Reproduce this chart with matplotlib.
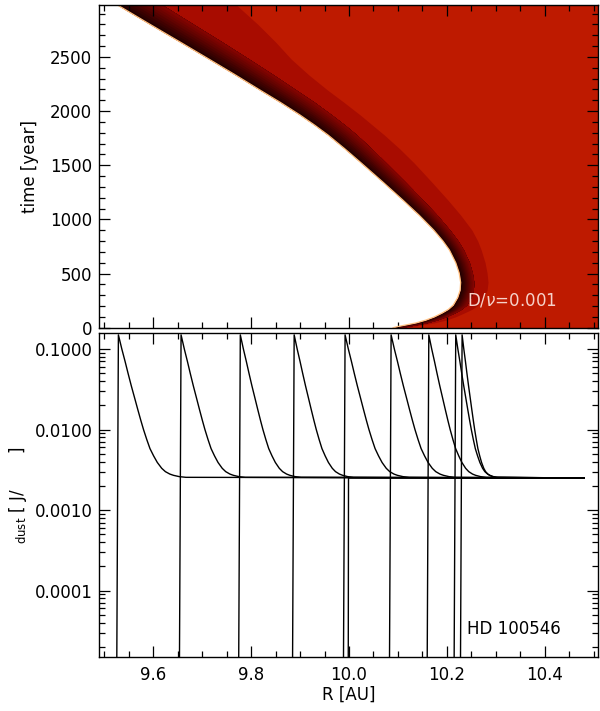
import matplotlib

matplotlib.use("Agg")
import matplotlib.pyplot as plt
import numpy as np
from matplotlib.ticker import FixedLocator, LogLocator, MultipleLocator, NullFormatter

# ---------------------------------------------------------------- #
# Top panel: inner dust edge R_in(t) and widths of the shading bands
# ---------------------------------------------------------------- #
t_edge = [2980, 2800, 2638, 2480, 2334, 2195, 2080, 1964, 1870, 1780, 1650,
          1521, 1350, 1179, 1040, 902, 800, 718, 600, 505, 420, 348, 280,
          210, 170, 136, 100, 71, 45, 25, 10, 0]
r_inner = [9.527, 9.594, 9.655, 9.714, 9.768, 9.818, 9.860, 9.900, 9.930,
           9.957, 9.992, 10.025, 10.068, 10.110, 10.143, 10.173, 10.192,
           10.205, 10.218, 10.225, 10.228, 10.227, 10.222, 10.213, 10.203,
           10.190, 10.174, 10.157, 10.137, 10.115, 10.098, 10.090]
dark_width = [0.092, 0.089, 0.086, 0.082, 0.078, 0.074, 0.070, 0.065, 0.062,
              0.059, 0.055, 0.051, 0.046, 0.041, 0.037, 0.033, 0.031, 0.029,
              0.028, 0.027, 0.027, 0.027, 0.027, 0.027, 0.026, 0.025, 0.023,
              0.022, 0.021, 0.020, 0.018, 0.016]
mid_width = [0.243, 0.220, 0.195, 0.168, 0.150, 0.138, 0.130, 0.123, 0.118,
             0.115, 0.112, 0.108, 0.100, 0.092, 0.085, 0.078, 0.071, 0.065,
             0.060, 0.057, 0.056, 0.055, 0.053, 0.051, 0.048, 0.045, 0.043,
             0.041, 0.037, 0.033, 0.031, 0.029]

# ---------------------------------------------------------------- #
# Bottom panel: surface density snapshots
# profile shape (sigma vs distance behind the peak) read off the
# outermost snapshot; the others are the same shape, narrower
# ---------------------------------------------------------------- #
shape_sigma = [0.150, 0.100, 0.070, 0.050, 0.035, 0.025, 0.018, 0.013, 0.010,
               0.0075, 0.0058, 0.0047, 0.0039, 0.0033, 0.0030, 0.0028,
               0.0027, 0.0026, 0.00255]
shape_dr = [0.0, 0.007, 0.0137, 0.0197, 0.0263, 0.0329, 0.0393, 0.0458,
            0.0513, 0.058, 0.0645, 0.072, 0.0795, 0.0885, 0.096, 0.105,
            0.1125, 0.1245, 0.138]
peak_r = [9.529, 9.657, 9.778, 9.888, 9.992, 10.086, 10.163, 10.218, 10.231]
width_scale = [1.0, 0.95, 0.9, 0.88, 0.95, 0.95, 0.85, 0.62, 0.5]
sigma_floor = 0.0025
r_floor_end = 10.48
r_initial = 9.998  # flat t=0 profile

plt.rcParams["font.family"] = "DejaVu Sans"
plt.rcParams["font.size"] = 12

fig = plt.figure(figsize=(6.0, 7.11), dpi=100)
ax_t = fig.add_axes([0.1655, 0.539, 0.8307, 0.454])
ax_s = fig.add_axes([0.1655, 0.0764, 0.8307, 0.4552])

xlim = (9.49, 10.508)

# --- top panel ---
main_red = (190 / 255, 26 / 255, 0)
mid_red = (168 / 255, 12 / 255, 0)
ti = np.array(t_edge, float)
ri = np.array(r_inner)
rd = ri + np.array(dark_width)
rm = ri + np.array(mid_width)
ax_t.fill_betweenx(ti, ri, xlim[1] + 0.1, color=main_red, lw=0)
ax_t.fill_betweenx(ti, ri, rm, color=mid_red, lw=0)
c0 = np.array([28, 0, 0]) / 255
c1 = np.array([135, 4, 0]) / 255
n_lay = 10
for k in range(n_lay):
    f0 = k / n_lay
    col = c0 + (c1 - c0) * (k + 0.5) / n_lay
    ax_t.fill_betweenx(ti, ri + (rd - ri) * f0, rd, color=col, lw=0)
ax_t.plot(ri, ti, color="#ffc080", lw=0.9)
ax_t.text(10.241, 256, r"D/$\nu$=0.001", color="#f6d2ca", fontsize=12,
          va="center", ha="left")
ax_t.set_xlim(*xlim)
ax_t.set_ylim(0, 2980)
ax_t.set_ylabel("time [year]", labelpad=8)
ax_t.yaxis.set_major_locator(MultipleLocator(500))
ax_t.yaxis.set_minor_locator(MultipleLocator(100))
ax_t.xaxis.set_major_locator(MultipleLocator(0.2))
ax_t.xaxis.set_minor_locator(MultipleLocator(0.05))
ax_t.set_xticklabels([])

# --- bottom panel ---
dr = np.array(shape_dr)
for r0, sc in zip(peak_r, width_scale):
    xs = np.concatenate([[r0 - 0.005], r0 + dr * sc, [r_floor_end]])
    ys = np.concatenate([[1e-7], shape_sigma, [sigma_floor]])
    ax_s.plot(xs, ys, color="black", lw=1.0)
ax_s.plot([r_initial, r_initial + 0.001, r_floor_end], [1e-7, sigma_floor, sigma_floor],
          color="black", lw=1.0)
ax_s.text(10.241, 3.3e-5, "HD 100546", fontsize=12, va="center", ha="left")
ax_s.set_yscale("log")
ax_s.set_xlim(*xlim)
ax_s.set_ylim(1.51e-5, 0.158)
ax_s.xaxis.set_major_locator(MultipleLocator(0.2))
ax_s.xaxis.set_minor_locator(MultipleLocator(0.05))
ax_s.yaxis.set_major_locator(FixedLocator([1e-4, 1e-3, 1e-2, 1e-1]))
ax_s.yaxis.set_minor_locator(LogLocator(base=10, subs=np.arange(2, 10)))
ax_s.yaxis.set_minor_formatter(NullFormatter())
ax_s.set_yticks([1e-4, 1e-3, 1e-2, 1e-1], ["0.0001", "0.0010", "0.0100", "0.1000"])
ax_s.set_xticks([9.6, 9.8, 10.0, 10.2, 10.4], ["9.6", "9.8", "10.0", "10.2", "10.4"])
ax_s.set_xlabel("R [AU]", labelpad=1)
ax_s.set_ylabel(r"${}_{\mathrm{dust}}$ [ J/       ]", labelpad=4, fontsize=12)

for ax in (ax_t, ax_s):
    ax.tick_params(which="both", direction="in", top=True, right=True)
    ax.tick_params(which="major", length=8, width=0.9, pad=5)
    ax.tick_params(which="minor", length=4, width=0.9)
    for sp in ax.spines.values():
        sp.set_linewidth(1.0)
ax_s.tick_params(axis="x", which="major", pad=7)

fig.savefig("out.png", dpi=100)
